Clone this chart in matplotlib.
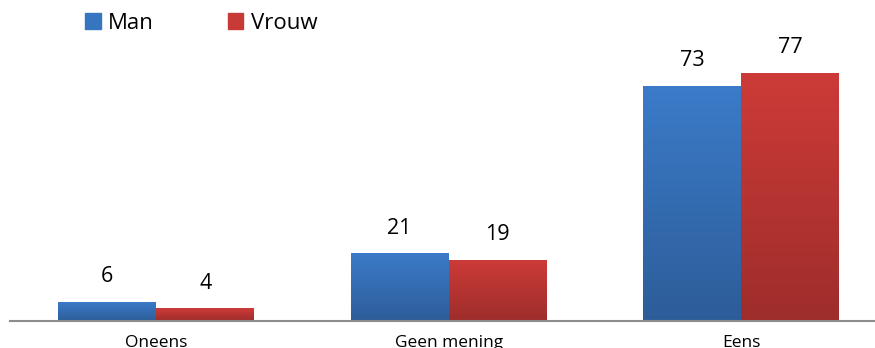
import numpy as np
import matplotlib.pyplot as plt
from matplotlib.patches import Patch
from matplotlib.colors import LinearSegmentedColormap

categories = ['Oneens', 'Geen mening', 'Eens']
man = [6, 21, 73]
vrouw = [4, 19, 77]

plt.rcParams['font.family'] = ['Open Sans', 'DejaVu Sans']

fig = plt.figure(figsize=(8.75, 3.48), dpi=100)
ax = fig.add_axes([10 / 875, 27 / 348, 1 - 10 / 875, 290 / 348])

x = np.arange(len(categories))
w = 0.335

blue_cmap = LinearSegmentedColormap.from_list('b', ['#2d5d99', '#3b7bc9'])
red_cmap = LinearSegmentedColormap.from_list('r', ['#9e2d2b', '#cd3b38'])
grad = np.linspace(0, 1, 256).reshape(-1, 1)


def gradient_bars(xs, vals, cmap):
    bars = ax.bar(xs, vals, w, color=cmap(0.8), zorder=2)
    for b in bars:
        x0, y0 = b.get_x(), b.get_y()
        im = ax.imshow(grad, cmap=cmap, origin='lower', aspect='auto',
                       extent=[x0, x0 + b.get_width(), y0, y0 + b.get_height()],
                       zorder=3)
        im.set_clip_path(b)
    return bars


gradient_bars(x - w / 2, man, blue_cmap)
gradient_bars(x + w / 2, vrouw, red_cmap)

for xi, v in zip(x - w / 2, man):
    ax.annotate(str(v), (xi, v), xytext=(0, 10.5), textcoords='offset points',
                ha='center', va='bottom', fontsize=15.5)
for xi, v in zip(x + w / 2, vrouw):
    ax.annotate(str(v), (xi, v), xytext=(0, 10.5), textcoords='offset points',
                ha='center', va='bottom', fontsize=15.5)

ax.set_xlim(-0.5, 2.458)
ax.set_ylim(0, 90)
ax.set_xticks(x)
ax.set_xticklabels(categories, fontsize=12.5)
ax.tick_params(axis='x', length=0, pad=10)
ax.set_yticks([])
for s in ['top', 'right', 'left']:
    ax.spines[s].set_visible(False)
ax.spines['bottom'].set_color('#8c8c8c')
ax.spines['bottom'].set_linewidth(1.5)
ax.spines['bottom'].set_zorder(4)

handles = [Patch(color='#3676c0', label='Man'), Patch(color='#c73a37', label='Vrouw')]
fig.legend(handles=handles, loc='upper left', bbox_to_anchor=(85 / 875, 1 - 13 / 348),
           ncol=2, frameon=False, fontsize=16, handlelength=0.7, handleheight=0.7,
           handletextpad=0.35, columnspacing=3.3, borderpad=0, borderaxespad=0)

fig.savefig('out.png', dpi=100)
